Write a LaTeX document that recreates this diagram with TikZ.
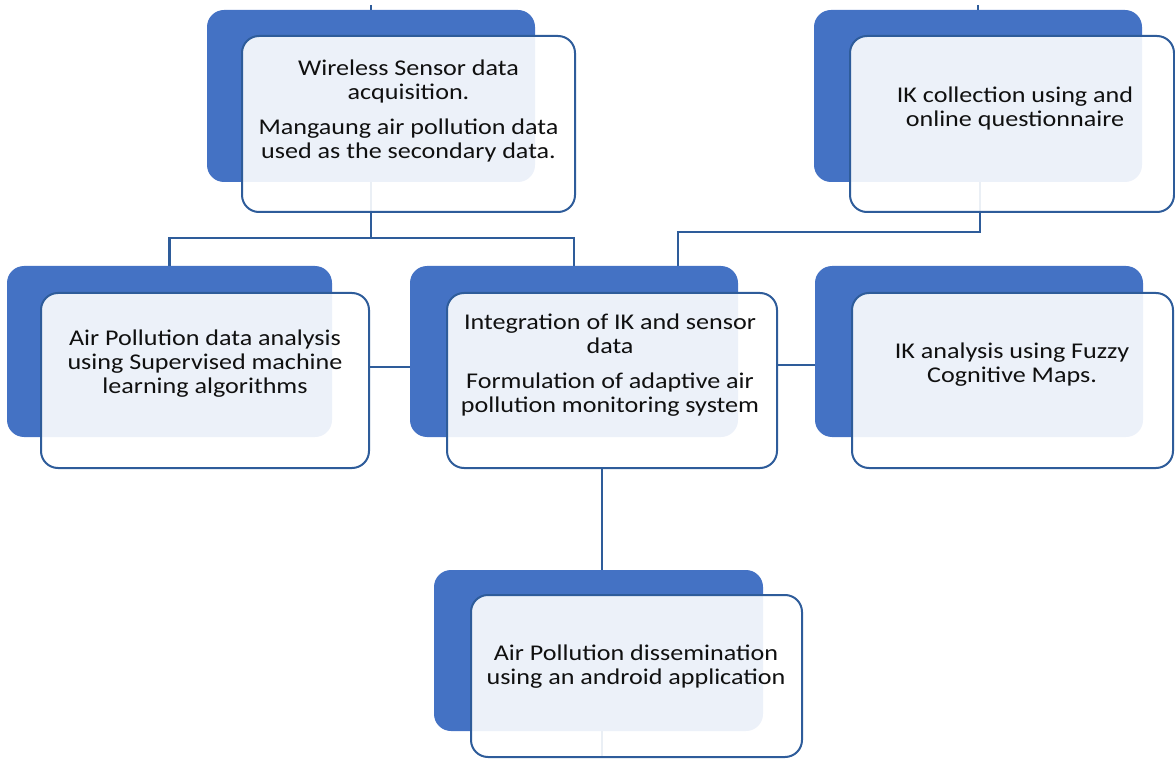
\documentclass[tikz,border=0pt]{standalone}
\usepackage{fontspec}
\setmainfont{Carlito}
\usetikzlibrary{backgrounds}
\definecolor{backblue}{HTML}{4472C4}
\definecolor{edgeblue}{HTML}{2E5C9A}
\definecolor{inktext}{HTML}{101010}
\tikzset{
  backbox/.style={rectangle, rounded corners=17pt, fill=backblue, draw=none, inner sep=0pt},
  frontbox/.style={rectangle, rounded corners=17pt, fill=white, fill opacity=0.9, draw=edgeblue, draw opacity=1, line width=2pt, inner sep=0pt},
  label/.style={align=center, text=inktext, inner sep=0pt, xscale=1.16, transform shape,
    font={\fontsize{22.5}{24}\selectfont}},
  link/.style={draw=edgeblue, line width=2.8pt},
}
\begin{document}
\begin{tikzpicture}[x=1pt, y=-1pt]
\useasboundingbox (0,0) rectangle (1175,759);
\clip (0,0) rectangle (1175,759);

% wireless sensor box
\node[backbox, minimum width=328pt, minimum height=172pt] (b1) at (371,96) {};
\node[frontbox, minimum width=333pt, minimum height=176pt] (f1) at (408.5,124) {};
\node[label] (t1) at (408.5,111.5) {Wireless Sensor data\\acquisition.\\[11pt]Mangaung air pollution data\\used as the secondary data.};

% IK collection box
\node[backbox, minimum width=328pt, minimum height=172pt] (b2) at (978,96) {};
\node[frontbox, minimum width=324pt, minimum height=176pt] (f2) at (1012,124) {};
\node[label] (t2) at (1015,108.5) {IK collection using and\\online questionnaire};

% supervised learning box
\node[backbox, minimum width=325pt, minimum height=171pt] (b3) at (169.5,351.5) {};
\node[frontbox, minimum width=328pt, minimum height=175pt] (f3) at (205,380.5) {};
\node[label] (t3) at (205,363.5) {Air Pollution data analysis\\using Supervised machine\\learning algorithms};

% integration box
\node[backbox, minimum width=328pt, minimum height=171pt] (b4) at (574,351.5) {};
\node[frontbox, minimum width=330pt, minimum height=175pt] (f4) at (612,380.5) {};
\node[label] (t4) at (610,365.5) {Integration of IK and sensor\\data\\[11pt]Formulation of adaptive air\\pollution monitoring system};

% fuzzy cognitive maps box
\node[backbox, minimum width=328pt, minimum height=171pt] (b5) at (979,351.5) {};
\node[frontbox, minimum width=321pt, minimum height=175pt] (f5) at (1012.5,380.5) {};
\node[label] (t5) at (1012,365) {IK analysis using Fuzzy\\Cognitive Maps.};

% dissemination box
\node[backbox, minimum width=329pt, minimum height=161pt] (b6) at (598.5,650.5) {};
\node[frontbox, minimum width=331pt, minimum height=162pt] (f6) at (636.5,676) {};
\node[label] (t6) at (636,666.5) {Air Pollution dissemination\\using an android application};

% junction points of the connectors
\coordinate (j1) at (371,238);
\coordinate (j2) at (980,232);
\coordinate (k4) at (678,266);
\coordinate (m34) at (390,367);
\coordinate (m45) at (800,365);
\coordinate (m46) at (602,520);
\coordinate (top1) at (371,5);
\coordinate (top2) at (978,5);

\begin{pgfonlayer}{background}
  \draw[link] (top1) -- (b1.north);
  \draw[link] (top2) -- (b2.north);
  \draw[link] (b1.center) -- (j1);
  \draw[link] (b3.north) |- (j1) -| (b4.north);
  \draw[link] (b2.center -| j2) -- (j2) -| (k4);
  \draw[link] (f3.east |- m34) -- (b4.west |- m34);
  \draw[link] (f4.east |- m45) -- (b5.west |- m45);
  \draw[link] (f4.south -| m46) -- (f6.south -| m46);
\end{pgfonlayer}
\end{tikzpicture}
\end{document}
